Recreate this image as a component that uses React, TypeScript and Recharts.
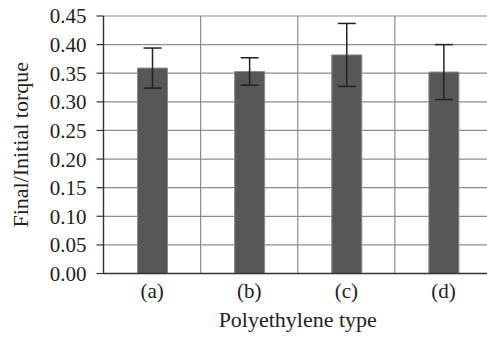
import React from 'react';
import { BarChart, Bar, XAxis, YAxis, CartesianGrid, ErrorBar, Label } from 'recharts';

const categories = ['(a)', '(b)', '(c)', '(d)'];
const torqueRatio = [0.359, 0.353, 0.382, 0.352];
const torqueError = [0.035, 0.024, 0.055, 0.048];
const yTicks = [0, 0.05, 0.1, 0.15, 0.2, 0.25, 0.3, 0.35, 0.4, 0.45];

const chartData = categories.map((type, i) => ({
  type,
  ratio: torqueRatio[i],
  err: torqueError[i],
}));

const font = '"Liberation Serif", "Times New Roman", serif';

// vertical grid lines sit between categories, not on them
const boundaryLines = ({ offset }: any) =>
  Array.from({ length: categories.length + 1 }, (_, i) => offset.left + (i * offset.width) / categories.length);

export default function App() {
  return (
    <div style={{ position: 'absolute', left: 0, top: 0, width: 487, height: 339, overflow: 'hidden', background: '#fff' }}>
      <BarChart
        width={500}
        height={339}
        data={chartData}
        margin={{ top: 16, right: 8, bottom: 0, left: 0 }}
        barSize={30}
        style={{ fontFamily: font }}
      >
        <CartesianGrid stroke="#8c8c8c" strokeWidth={1.2} verticalCoordinatesGenerator={boundaryLines} />
        <XAxis
          dataKey="type"
          height={65.5}
          tickLine={false}
          tickMargin={4}
          axisLine={{ stroke: '#333', strokeWidth: 1.3 }}
          tick={{ fontSize: 21, fill: '#222', fontFamily: font }}
        >
          <Label value="Polyethylene type" position="insideBottom" offset={12} style={{ fontSize: 22, fill: '#222', fontFamily: font }} />
        </XAxis>
        <YAxis
          width={103.5}
          domain={[0, 0.45]}
          ticks={yTicks}
          interval={0}
          tickSize={7}
          tickMargin={10}
          tickFormatter={(v: number) => v.toFixed(2)}
          axisLine={{ stroke: '#333', strokeWidth: 1.3 }}
          tickLine={{ stroke: '#333', strokeWidth: 1.2 }}
          tick={{ fontSize: 21, fill: '#222', fontFamily: font }}
        >
          <Label
            value="Final/Initial torque"
            angle={-90}
            position="center"
            dx={-31.5}
            style={{ fontSize: 22, fill: '#222', fontFamily: font, textAnchor: 'middle' }}
          />
        </YAxis>
        <Bar dataKey="ratio" fill="#575757" stroke="#8a8a8a" strokeWidth={1} isAnimationActive={false}>
          <ErrorBar dataKey="err" direction="y" width={9} stroke="#222" strokeWidth={1.5} isAnimationActive={false} />
        </Bar>
      </BarChart>
    </div>
  );
}
